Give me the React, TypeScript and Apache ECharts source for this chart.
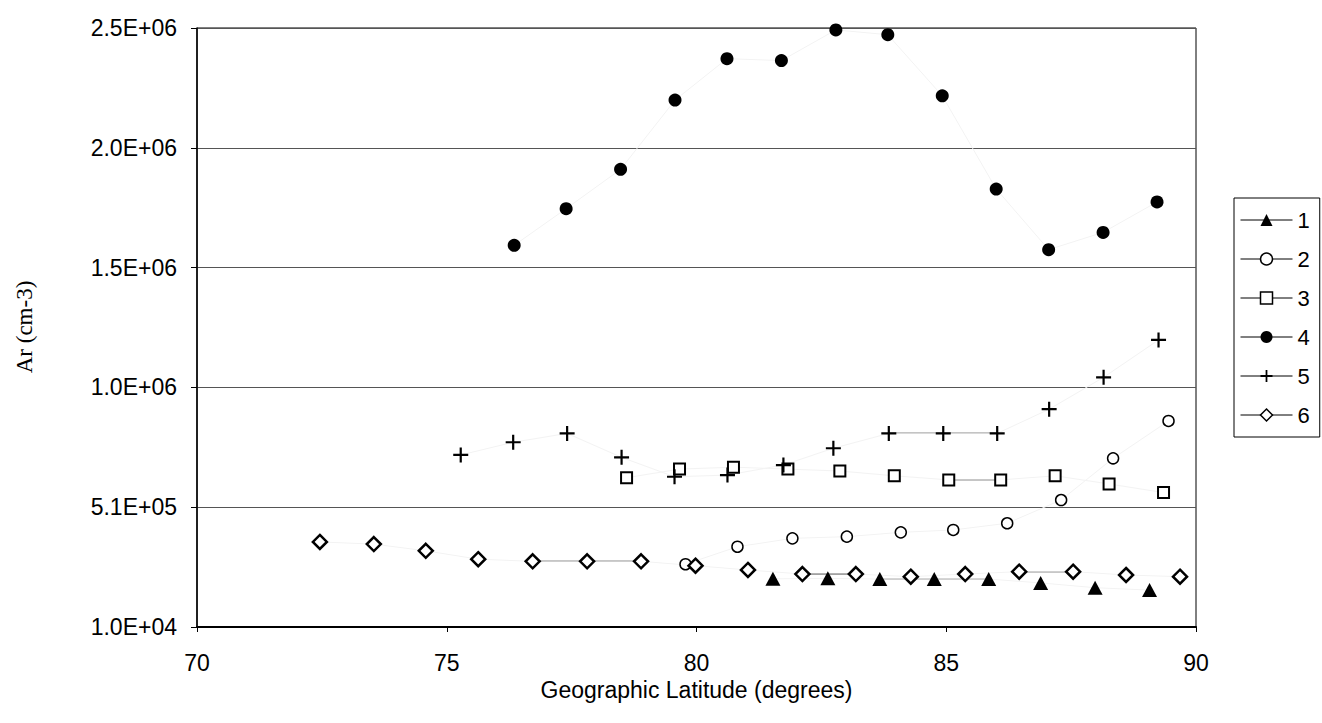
import React, { useEffect, useRef } from "react";
import * as echarts from "echarts";

// ---- data (latitude in degrees, Ar in cm-3) ----
const seriesNames = ["1", "2", "3", "4", "5", "6"];

const lat1 = [81.53, 82.63, 83.67, 84.76, 85.85, 86.89, 87.98, 89.07];
const ar1 = [211000, 213000, 210000, 210000, 210000, 194000, 174000, 164000];

const lat2 = [79.78, 80.82, 81.92, 83.01, 84.09, 85.14, 86.22, 87.3, 88.34, 89.45];
const ar2 = [272000, 345000, 380000, 387000, 405000, 415000, 443000, 540000, 714000, 870000];

const lat3 = [78.6, 79.66, 80.74, 81.83, 82.87, 83.96, 85.05, 86.09, 87.18, 88.26, 89.35];
const ar3 = [633000, 669000, 677000, 669000, 661000, 641000, 624000, 624000, 641000, 607000, 571000];

const lat4 = [76.35, 77.39, 78.48, 79.57, 80.61, 81.7, 82.79, 83.83, 84.92, 86.0, 87.05, 88.14, 89.22];
const ar4 = [1603000, 1756000, 1920000, 2209000, 2382000, 2374000, 2502000, 2482000, 2227000, 1838000, 1585000, 1657000, 1784000];

const lat5 = [75.28, 76.33, 77.41, 78.5, 79.56, 80.62, 81.74, 82.74, 83.85, 84.94, 86.02, 87.06, 88.15, 89.25];
const ar5 = [728000, 781000, 818000, 718000, 637000, 644000, 686000, 756000, 818000, 818000, 818000, 919000, 1052000, 1208000];

const lat6 = [72.46, 73.54, 74.58, 75.63, 76.72, 77.81, 78.89, 79.98, 81.03, 82.12, 83.19, 84.29, 85.38, 86.46, 87.54, 88.6, 89.68];
const ar6 = [365000, 356000, 328000, 293000, 284000, 284000, 284000, 266000, 248000, 231000, 231000, 220000, 231000, 241000, 241000, 227000, 220000];

const lats = [lat1, lat2, lat3, lat4, lat5, lat6];
const ars = [ar1, ar2, ar3, ar4, ar5, ar6];

// y axis: starts at 1.0E+04, step 5.0E+05
const Y_MIN = 10000;
const Y_STEP = 500000;
const Y_STEPS = 5;

// segments drawn with a visible line (series index, from point, to point, colour)
const darkSegments = [
  { s: 0, from: 2, to: 4, color: "#808080" },
  { s: 2, from: 6, to: 7, color: "#555555" },
  { s: 4, from: 8, to: 10, color: "#000000" },
  { s: 5, from: 4, to: 6, color: "#000000" },
  { s: 5, from: 9, to: 10, color: "#000000" },
  { s: 5, from: 13, to: 14, color: "#000000" },
];

const PLUS = "path://M6.4,0H8.6V15H6.4Z M0,6.4H15V8.6H0Z";

const symbolStyles = [
  { symbol: "triangle", size: [15, 14], fill: "#000", border: 0 },
  { symbol: "circle", size: 11, fill: "#fff", border: 1.5 },
  { symbol: "rect", size: 11, fill: "#fff", border: 2 },
  { symbol: "circle", size: 13, fill: "#000", border: 0 },
  { symbol: PLUS, size: 15, fill: "#000", border: 0 },
  { symbol: "diamond", size: 14, fill: "#fff", border: 2.5 },
];

function sci(v: number): string {
  const [m, e] = v.toExponential(1).split("e");
  const n = parseInt(e, 10);
  const sign = n < 0 ? "-" : "+";
  const abs = Math.abs(n);
  return m + "E" + sign + (abs < 10 ? "0" + abs : String(abs));
}

export default function App() {
  const ref = useRef<HTMLDivElement>(null);

  useEffect(() => {
    if (!ref.current) return;
    const chart = echarts.init(ref.current, undefined, { renderer: "svg" });

    const mainSeries = seriesNames.map((name, i) => {
      const st = symbolStyles[i];
      return {
        name,
        type: "line",
        data: lats[i].map((x, k) => [x, ars[i][k] - Y_MIN]),
        symbol: st.symbol,
        symbolSize: st.size,
        showSymbol: true,
        z: 3,
        lineStyle: { color: "#f3f3f3", width: 1 },
        itemStyle: {
          color: st.fill,
          borderColor: "#000",
          borderWidth: st.border,
        },
        emphasis: { disabled: true },
      };
    });

    const segSeries = darkSegments.map((seg, j) => ({
      name: "seg" + j,
      type: "line",
      data: lats[seg.s]
        .slice(seg.from, seg.to + 1)
        .map((x, k) => [x, ars[seg.s][seg.from + k] - Y_MIN]),
      symbol: "none",
      z: 2,
      lineStyle: { color: seg.color, width: 1.2 },
      emphasis: { disabled: true },
      silent: true,
    }));

    const font = "'Liberation Sans', Arial, sans-serif";

    chart.setOption({
      animation: false,
      backgroundColor: "#ffffff",
      grid: {
        left: 197,
        right: 126,
        top: 28,
        bottom: 96,
        show: true,
        borderColor: "#000",
        borderWidth: 1,
      },
      legend: {
        orient: "vertical",
        left: 1234,
        top: 198,
        padding: [11, 10, 11, 6],
        itemWidth: 52,
        itemHeight: 15,
        itemGap: 17,
        borderColor: "#000",
        borderWidth: 1,
        backgroundColor: "#fff",
        lineStyle: { color: "#000", width: 1 },
        textStyle: { fontFamily: font, fontSize: 22, lineHeight: 15, color: "#000" },
        data: seriesNames.map((name, i) => ({
          name,
          itemStyle: {
            color: symbolStyles[i].fill,
            borderColor: "#000",
            borderWidth: Math.min(symbolStyles[i].border, 1.5),
          },
        })),
      },
      xAxis: {
        type: "value",
        min: 70,
        max: 90,
        interval: 5,
        name: "Geographic Latitude (degrees)",
        nameLocation: "middle",
        nameGap: 51,
        nameTextStyle: { fontFamily: font, fontSize: 23, color: "#000" },
        axisLine: { show: true, onZero: false, lineStyle: { color: "#000", width: 2 } },
        axisTick: { show: true, inside: false, length: 5, lineStyle: { color: "#000" } },
        axisLabel: { fontFamily: font, fontSize: 23, color: "#000", margin: 24 },
        splitLine: { show: false },
      },
      yAxis: {
        type: "value",
        min: 0,
        max: Y_STEP * Y_STEPS,
        interval: Y_STEP,
        axisLine: { show: true, onZero: false, lineStyle: { color: "#000", width: 1.5 } },
        axisTick: { show: true, inside: false, length: 6, lineStyle: { color: "#000" } },
        axisLabel: {
          fontFamily: font,
          fontSize: 23,
          color: "#000",
          margin: 20,
          formatter: (v: number) => sci(v + Y_MIN),
        },
        splitLine: { show: true, lineStyle: { color: "#555", width: 1 } },
      },
      graphic: [
        {
          type: "text",
          x: 24,
          y: 327,
          rotation: Math.PI / 2,
          style: {
            text: "Ar (cm-3)",
            font: "23px 'Liberation Serif', 'Times New Roman', serif",
            fill: "#000",
            textAlign: "center",
            textVerticalAlign: "middle",
          },
        },
      ],
      series: [...segSeries, ...mainSeries],
    });

    return () => chart.dispose();
  }, []);

  return <div ref={ref} style={{ width: 1322, height: 723, position: "absolute", left: 0, top: 0 }} />;
}
